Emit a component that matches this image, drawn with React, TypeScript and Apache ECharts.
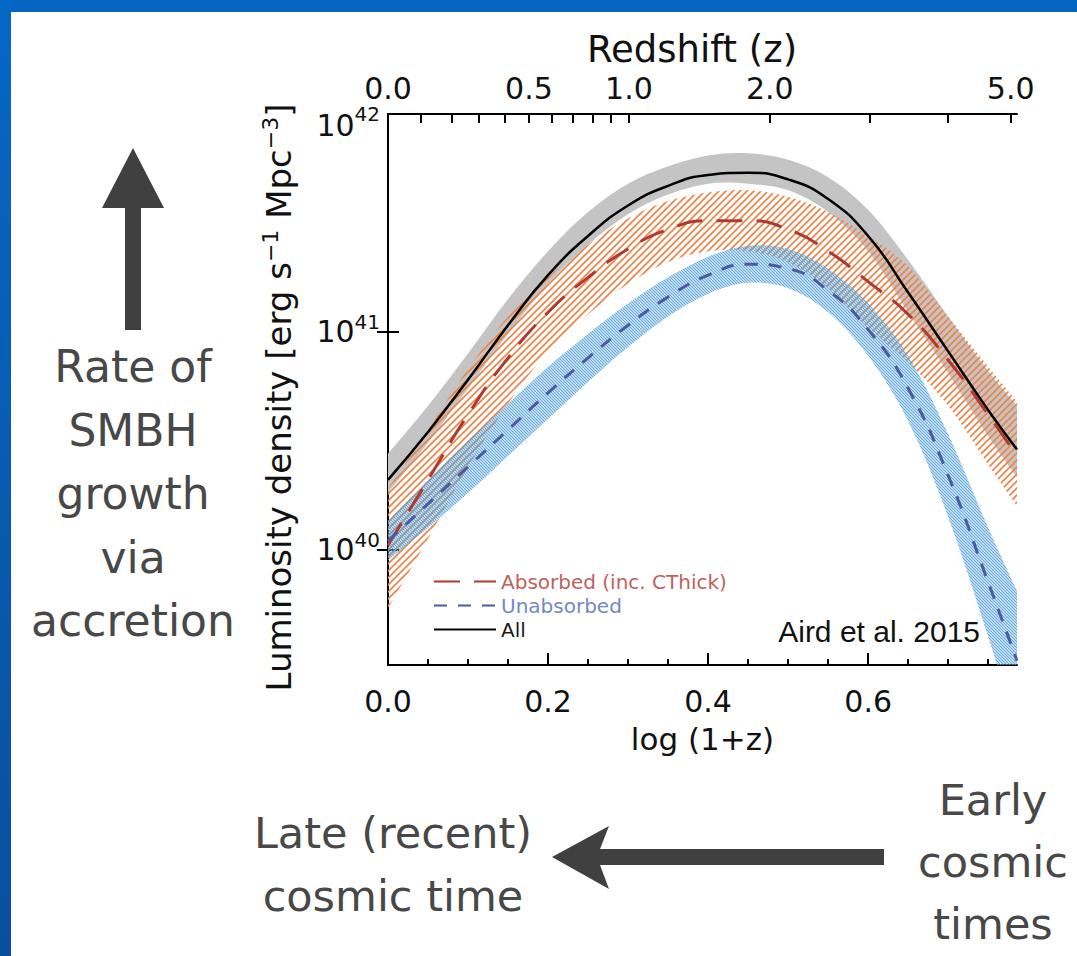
import React, { useEffect, useRef } from 'react';
import * as echarts from 'echarts';

// x positions: log(1+z)
const logOnePlusZ = [0, 0.05, 0.1, 0.15, 0.2, 0.25, 0.3, 0.35, 0.4, 0.45, 0.5, 0.55, 0.6, 0.65, 0.7, 0.75, 0.786];

// log10 luminosity density [erg s^-1 Mpc^-3]
const allLum = [40.32, 40.54, 40.78, 41.03, 41.26, 41.44, 41.58, 41.67, 41.72, 41.73, 41.70, 41.61, 41.44, 41.18, 40.91, 40.64, 40.46];
const allUpper = [40.44, 40.66, 40.90, 41.15, 41.37, 41.55, 41.68, 41.76, 41.81, 41.82, 41.79, 41.71, 41.56, 41.33, 41.07, 40.82, 40.66];
const allLower = [40.26, 40.49, 40.74, 40.99, 41.22, 41.40, 41.54, 41.63, 41.68, 41.68, 41.65, 41.55, 41.37, 41.09, 40.81, 40.52, 40.33];

const absorbedLum = [40.02, 40.32, 40.62, 40.88, 41.09, 41.25, 41.38, 41.47, 41.51, 41.51, 41.47, 41.37, 41.23, 41.08, 40.87, 40.62, 40.43];
const absorbedUpper = [40.28, 40.55, 40.83, 41.07, 41.25, 41.40, 41.52, 41.60, 41.64, 41.65, 41.62, 41.55, 41.44, 41.30, 41.07, 40.84, 40.68];
const absorbedLower = [39.73, 40.05, 40.38, 40.67, 40.91, 41.08, 41.22, 41.32, 41.37, 41.37, 41.32, 41.20, 41.02, 40.86, 40.66, 40.39, 40.20];

const unabsorbedLum = [40.04, 40.21, 40.38, 40.55, 40.72, 40.88, 41.03, 41.16, 41.26, 41.31, 41.29, 41.19, 41.01, 40.74, 40.34, 39.85, 39.49];
const unabsorbedUpper = [40.13, 40.32, 40.50, 40.67, 40.84, 40.99, 41.13, 41.25, 41.345, 41.395, 41.38, 41.29, 41.13, 40.89, 40.53, 40.10, 39.81];
const unabsorbedLower = [39.95, 40.10, 40.26, 40.43, 40.60, 40.77, 40.93, 41.07, 41.175, 41.225, 41.20, 41.09, 40.89, 40.59, 40.15, 39.60, 39.17];

// axes
const xMajorTicks = [0, 0.2, 0.4, 0.6];
const xMinorTicks = [0.05, 0.1, 0.15, 0.25, 0.3, 0.35, 0.45, 0.5, 0.55, 0.65, 0.7, 0.75];
const yDecades = [40, 41, 42];
const redshiftTicks = [0.1, 0.2, 0.3, 0.4, 0.5, 0.6, 0.7, 0.8, 0.9, 1.0, 2.0, 3.0, 4.0, 5.0];
const redshiftLabels = [0, 0.5, 1.0, 2.0, 5.0];

const X_MIN = 0;
const X_MAX = 0.786;
const Y_MIN = 39.47;
const Y_MAX = 42;

const FONT = 'DejaVu Sans';

function catmull(ctx: any, pts: number[][]) {
  for (let i = 0; i < pts.length - 1; i++) {
    const p0 = pts[i - 1] || pts[i];
    const p1 = pts[i];
    const p2 = pts[i + 1];
    const p3 = pts[i + 2] || p2;
    const c1x = p1[0] + (p2[0] - p0[0]) / 6;
    const c1y = p1[1] + (p2[1] - p0[1]) / 6;
    const c2x = p2[0] - (p3[0] - p1[0]) / 6;
    const c2y = p2[1] - (p3[1] - p1[1]) / 6;
    ctx.bezierCurveTo(c1x, c1y, c2x, c2y, p2[0], p2[1]);
  }
}

const BandShape = (echarts.graphic as any).extendShape({
  shape: { upper: [] as number[][], lower: [] as number[][] },
  buildPath(ctx: any, shape: any) {
    const up: number[][] = shape.upper;
    const lo: number[][] = shape.lower;
    if (!up || !up.length) return;
    ctx.moveTo(up[0][0], up[0][1]);
    catmull(ctx, up);
    const rev = lo.slice().reverse();
    ctx.lineTo(rev[0][0], rev[0][1]);
    catmull(ctx, rev);
    ctx.closePath();
  },
});
(echarts.graphic as any).registerShape('lumBand', BandShape);

function pairs(arr: number[]) {
  return logOnePlusZ.map((x, i) => [x, arr[i]]);
}

function makeHatch(size: number, color: string, lw: number, dir: '/' | '\\') {
  const c = document.createElement('canvas');
  c.width = size;
  c.height = size;
  const ctx = c.getContext('2d')!;
  ctx.strokeStyle = color;
  ctx.lineWidth = lw;
  ctx.beginPath();
  if (dir === '/') {
    ctx.moveTo(-1, size + 1); ctx.lineTo(size + 1, -1);
    ctx.moveTo(-2, 2); ctx.lineTo(2, -2);
    ctx.moveTo(size - 2, size + 2); ctx.lineTo(size + 2, size - 2);
  } else {
    ctx.moveTo(-1, -1); ctx.lineTo(size + 1, size + 1);
    ctx.moveTo(size - 2, -2); ctx.lineTo(size + 2, 2);
    ctx.moveTo(-2, size - 2); ctx.lineTo(2, size + 2);
  }
  ctx.stroke();
  return { image: c, repeat: 'repeat', imageWidth: size, imageHeight: size };
}

function band(name: string, lower: number[], upper: number[], fill: any, z: number) {
  return {
    type: 'custom',
    name,
    coordinateSystem: 'cartesian2d',
    xAxisIndex: 0,
    yAxisIndex: 0,
    clip: true,
    silent: true,
    z,
    data: logOnePlusZ.map((x, i) => [x, lower[i], upper[i]]),
    encode: { x: 0, y: [1, 2] },
    renderItem: (params: any, api: any) => {
      if (params.dataIndex !== 0) return null;
      const up = logOnePlusZ.map((x, i) => api.coord([x, upper[i]]));
      const lo = logOnePlusZ.map((x, i) => api.coord([x, lower[i]]));
      return {
        type: 'lumBand',
        shape: { upper: up, lower: lo },
        style: { fill },
      };
    },
  };
}

export default function App() {
  const ref = useRef<HTMLDivElement>(null);

  useEffect(() => {
    if (!ref.current) return;
    const chart = echarts.init(ref.current, null, { renderer: 'svg' });

    const orangeHatch = makeHatch(7, 'rgba(240,132,72,1)', 1.7, '/');
    const blueHatch = makeHatch(3, 'rgba(92,164,214,0.9)', 1.3, '\\');

    const option: any = {
      animation: false,
      backgroundColor: '#ffffff',
      textStyle: { fontFamily: FONT },
      grid: { left: 388, right: 60, top: 114, bottom: 291, containLabel: false, outerBoundsMode: 'none' },
      legend: {
        show: true,
        orient: 'vertical',
        left: 428,
        top: 566,
        itemWidth: 62,
        itemHeight: 14,
        itemGap: 3,
        selectedMode: false,
        itemStyle: { opacity: 0, borderWidth: 0 },
        textStyle: { fontFamily: FONT, fontSize: 20, lineHeight: 21 },
        data: [
          { name: 'Absorbed (inc. CThick)', textStyle: { color: '#bf625d' } },
          { name: 'Unabsorbed', textStyle: { color: '#7489c2' } },
          { name: 'All', textStyle: { color: '#1a1a1a' } },
        ],
      },
      xAxis: [
        {
          type: 'value',
          position: 'bottom',
          min: X_MIN,
          max: X_MAX,
          name: 'log (1+z)',
          nameLocation: 'middle',
          nameGap: 58,
          nameTextStyle: { fontFamily: FONT, fontSize: 31, color: '#111' },
          splitLine: { show: false },
          axisLine: { show: true, lineStyle: { color: '#000', width: 2 } },
          axisTick: { show: true, inside: true, length: 12, customValues: xMajorTicks, lineStyle: { color: '#000', width: 2 } },
          axisLabel: {
            show: true,
            customValues: xMajorTicks,
            margin: 21,
            fontFamily: FONT,
            fontSize: 30,
            color: '#111',
            formatter: (v: number) => v.toFixed(1),
          },
        },
        {
          type: 'value',
          position: 'top',
          min: X_MIN,
          max: X_MAX,
          name: 'Redshift (z)',
          nameLocation: 'middle',
          nameGap: 46,
          nameTextStyle: { fontFamily: FONT, fontSize: 37, color: '#111', padding: [0, 21, 0, 0] },
          splitLine: { show: false },
          axisLine: { show: true, lineStyle: { color: '#000', width: 2 } },
          axisTick: {
            show: true,
            inside: true,
            length: 9,
            customValues: redshiftTicks.map((z) => Math.log10(1 + z)),
            lineStyle: { color: '#000', width: 2 },
          },
          axisLabel: {
            show: true,
            customValues: redshiftLabels.map((z) => Math.log10(1 + z)),
            margin: 11,
            fontFamily: FONT,
            fontSize: 30,
            color: '#111',
            formatter: (v: number) => (Math.pow(10, v) - 1).toFixed(1),
          },
        },
        {
          type: 'value',
          position: 'bottom',
          min: X_MIN,
          max: X_MAX,
          splitLine: { show: false },
          axisLine: { show: false },
          axisTick: { show: true, inside: true, length: 6, customValues: xMinorTicks, lineStyle: { color: '#000', width: 2 } },
          axisLabel: { show: false },
        },
      ],
      yAxis: [
        {
          type: 'value',
          position: 'left',
          min: Y_MIN,
          max: Y_MAX,
          name: 'Luminosity density [erg s{sup|−1} Mpc{sup|−3}]',
          nameLocation: 'middle',
          nameGap: 89,
          nameTextStyle: {
            fontFamily: FONT,
            fontSize: 34,
            color: '#111',
            lineHeight: 40,
            padding: [0, 16, 0, 0],
            rich: {
              sup: { fontFamily: FONT, fontSize: 22, color: '#111', lineHeight: 20, verticalAlign: 'top' },
            },
          },
          splitLine: { show: false },
          axisLine: { show: true, lineStyle: { color: '#000', width: 2 } },
          axisTick: { show: true, inside: true, length: 11, customValues: yDecades, lineStyle: { color: '#000', width: 2 } },
          axisLabel: {
            show: true,
            customValues: yDecades,
            margin: 8,
            formatter: (v: number) => {
              const e = Math.round(v);
              return e === 42 ? `{a2|10}{sup2|${e}}` : `{a|10}{sup|${e}}`;
            },
            rich: {
              a: { fontFamily: FONT, fontSize: 30, color: '#111', lineHeight: 40 },
              sup: { fontFamily: FONT, fontSize: 20, color: '#111', lineHeight: 20, verticalAlign: 'top' },
              a2: { fontFamily: FONT, fontSize: 30, color: '#111', lineHeight: 30, padding: [22, 0, 0, 0] },
              sup2: { fontFamily: FONT, fontSize: 20, color: '#111', lineHeight: 20 },
            },
          },
        },
        {
          type: 'value',
          position: 'right',
          min: Y_MIN,
          max: Y_MAX,
          splitLine: { show: false },
          axisLine: { show: true, lineStyle: { color: '#000', width: 2 } },
          axisTick: { show: true, inside: true, length: 11, customValues: [40, 41], lineStyle: { color: '#000', width: 2 } },
          axisLabel: { show: false },
        },
      ],
      series: [
        band('All band', allLower, allUpper, '#c4c4c4', 1),
        band('Absorbed band', absorbedLower, absorbedUpper, orangeHatch, 2),
        band('Unabsorbed band', unabsorbedLower, unabsorbedUpper, blueHatch, 2),
        {
          type: 'line',
          name: 'All',
          data: pairs(allLum),
          symbol: 'none',
          smooth: 0.5,
          z: 5,
          color: '#000',
          lineStyle: { color: '#000', width: 2.5, type: 'solid' },
        },
        {
          type: 'line',
          name: 'Absorbed (inc. CThick)',
          data: pairs(absorbedLum),
          symbol: 'none',
          smooth: 0.5,
          z: 5,
          color: '#b13a2f',
          lineStyle: { color: '#b13a2f', width: 3, type: [26, 14] },
        },
        {
          type: 'line',
          name: 'Unabsorbed',
          data: pairs(unabsorbedLum),
          symbol: 'none',
          smooth: 0.5,
          z: 5,
          color: '#4a5ba2',
          lineStyle: { color: '#4a5ba2', width: 3, type: [13, 11] },
        },
      ],
      graphic: [
        {
          type: 'rect',
          z: 100,
          shape: { x: 0, y: 0, width: 1077, height: 12 },
          style: { fill: '#0565c3' },
        },
        {
          type: 'rect',
          z: 100,
          shape: { x: 0, y: 0, width: 11, height: 956 },
          style: {
            fill: new echarts.graphic.LinearGradient(0, 0, 0, 1, [
              { offset: 0, color: '#0667c6' },
              { offset: 1, color: '#0a4f9b' },
            ]),
          },
        },
        {
          type: 'text',
          z: 10,
          x: 980,
          y: 631,
          style: {
            text: 'Aird et al. 2015',
            fontFamily: 'Liberation Sans',
            fontSize: 30,
            fill: '#111',
            align: 'right',
            verticalAlign: 'middle',
          },
        },
        {
          type: 'polygon',
          z: 10,
          shape: {
            points: [[133, 148], [164, 208], [141, 208], [141, 330], [125, 330], [125, 208], [102, 208]],
          },
          style: { fill: '#404040' },
        },
        {
          type: 'text',
          z: 10,
          x: 133,
          y: 335,
          style: {
            text: 'Rate of\nSMBH\ngrowth\nvia\naccretion',
            fontFamily: FONT,
            fontSize: 44,
            lineHeight: 63.5,
            fill: '#484848',
            align: 'center',
            verticalAlign: 'top',
          },
        },
        {
          type: 'polygon',
          z: 10,
          shape: {
            points: [[552, 857], [609, 826], [600, 849], [884, 849], [884, 865], [600, 865], [609, 889]],
          },
          style: { fill: '#404040' },
        },
        {
          type: 'text',
          z: 10,
          x: 393,
          y: 801,
          style: {
            text: 'Late (recent)\ncosmic time',
            fontFamily: FONT,
            fontSize: 43,
            lineHeight: 63,
            fill: '#484848',
            align: 'center',
            verticalAlign: 'top',
          },
        },
        {
          type: 'text',
          z: 10,
          x: 993,
          y: 769,
          style: {
            text: 'Early\ncosmic\ntimes',
            fontFamily: FONT,
            fontSize: 43,
            lineHeight: 62,
            fill: '#484848',
            align: 'center',
            verticalAlign: 'top',
          },
        },
      ],
    };

    chart.setOption(option);
    return () => {
      chart.dispose();
    };
  }, []);

  return (
    <div
      ref={ref}
      style={{ position: 'absolute', left: 0, top: 0, width: 1077, height: 956, background: '#fff' }}
    />
  );
}
